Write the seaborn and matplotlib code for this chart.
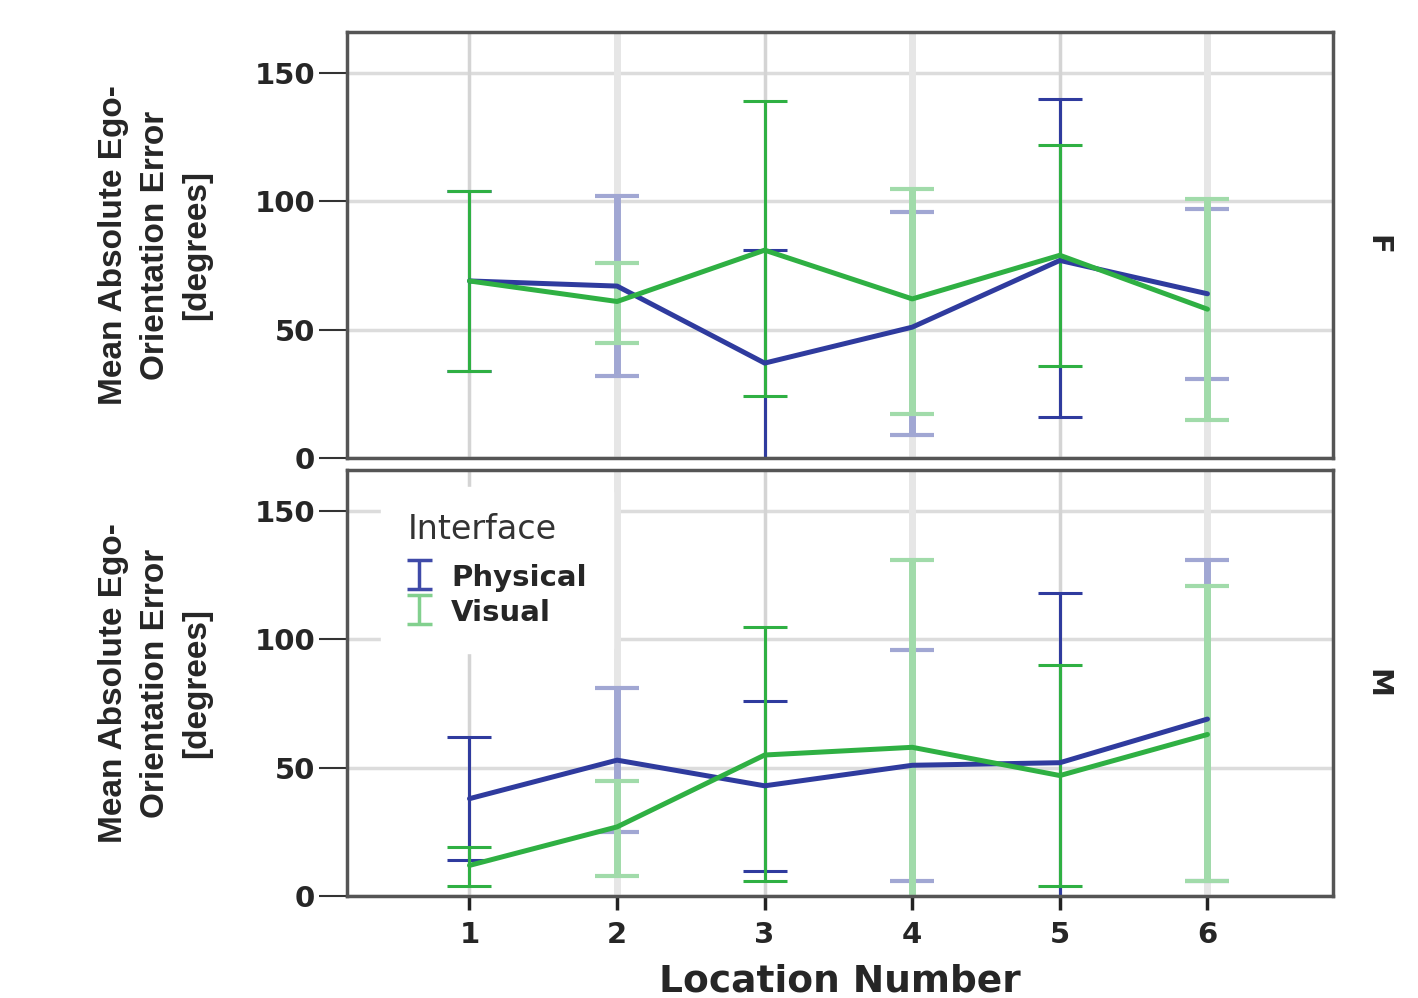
import numpy as np
import pandas as pd
import matplotlib
matplotlib.use('Agg')
import matplotlib.pyplot as plt
import matplotlib.colors as mcolors
import seaborn as sns

# values (mean and error bar ends)
locations = [1, 2, 3, 4, 5, 6]
interfaces = ['Physical', 'Visual']
sexes = ['F', 'M']

f_phys_mean = [69, 67, 37, 51, 77, 64]
f_phys_low = [34, 32, -8, 9, 16, 31]
f_phys_high = [104, 102, 81, 96, 140, 97]
f_vis_mean = [69, 61, 81, 62, 79, 58]
f_vis_low = [34, 45, 24, 17, 36, 15]
f_vis_high = [104, 76, 139, 105, 122, 101]

m_phys_mean = [38, 53, 43, 51, 52, 69]
m_phys_low = [14, 25, 10, 6, -15, 6]
m_phys_high = [62, 81, 76, 96, 118, 131]
m_vis_mean = [12, 27, 55, 58, 47, 63]
m_vis_low = [4, 8, 6, -10, 4, 6]
m_vis_high = [19, 45, 105, 131, 90, 121]

y_ticks = [0, 50, 100, 150]

# build a long table
rows = []
series = {
    ('F', 'Physical'): (f_phys_mean, f_phys_low, f_phys_high),
    ('F', 'Visual'): (f_vis_mean, f_vis_low, f_vis_high),
    ('M', 'Physical'): (m_phys_mean, m_phys_low, m_phys_high),
    ('M', 'Visual'): (m_vis_mean, m_vis_low, m_vis_high),
}
for (sex, itf), (mean, low, high) in series.items():
    for loc, m, lo, hi in zip(locations, mean, low, high):
        rows.append({'sex': sex, 'interface': itf, 'location': loc,
                     'mean': m, 'low': lo, 'high': hi})
df = pd.DataFrame(rows)

colors = {'Physical': '#2f3b9e', 'Visual': '#2fb043'}


def lighten(c, a=0.45):
    rgb = np.array(mcolors.to_rgb(c))
    return tuple(rgb * a + (1 - a))


light = {k: lighten(v) for k, v in colors.items()}
legend_colors = {'Physical': '#3f4aa8', 'Visual': lighten('#2fb043', 0.6)}

sns.set_style('white')
plt.rcParams['font.family'] = ['DejaVu Sans']

fig = plt.figure(figsize=(14.18, 9.98), dpi=100)
ax_top = fig.add_axes([0.2447, 0.541, 0.6953, 0.427])
ax_bot = fig.add_axes([0.2447, 0.102, 0.6953, 0.427])

for ax, sex in zip([ax_top, ax_bot], sexes):
    sub = df[df['sex'] == sex]
    # grid
    for y in y_ticks:
        ax.axhline(y, color='#dcdcdc', lw=2.5, zorder=0)
    for x in locations:
        if x % 2 == 0:
            ax.axvline(x, color='#e6e6e6', lw=5, zorder=0)
        else:
            ax.axvline(x, color='#d4d4d4', lw=2.5, zorder=0)

    for itf in interfaces:
        s = sub[sub['interface'] == itf]
        for _, r in s.iterrows():
            even = r['location'] % 2 == 0
            ax.errorbar([r['location']], [r['mean']],
                        yerr=[[r['mean'] - r['low']], [r['high'] - r['mean']]],
                        fmt='none', ecolor=light[itf] if even else colors[itf],
                        elinewidth=5 if even else 2.2,
                        capsize=16, capthick=3 if even else 2.2, zorder=2)

    sns.lineplot(data=sub, x='location', y='mean', hue='interface',
                 hue_order=interfaces, palette=colors, errorbar=None,
                 lw=3.6, legend=False, ax=ax, zorder=3)

    ax.set_xlim(0.17, 6.85)
    ax.set_ylim(0, 166)
    ax.set_yticks(y_ticks)
    ax.set_yticklabels([str(t) for t in y_ticks], fontsize=21, fontweight='bold')
    ax.tick_params(axis='y', direction='out', length=20, width=1.5, color='#333333', pad=3, left=True)
    ax.set_ylabel('Mean Absolute Ego-\nOrientation Error\n[degrees]',
                  fontsize=24, fontweight='bold', family='Liberation Sans', labelpad=30,
                  linespacing=1.45)
    for sp in ax.spines.values():
        sp.set_color('#555555')
        sp.set_linewidth(2.5)
    ax.text(1.045, 0.5, sex, transform=ax.transAxes, rotation=270,
            ha='center', va='center', fontsize=21, fontweight='bold')

ax_top.set_xticks(locations)
ax_top.tick_params(axis='x', bottom=False, labelbottom=False)
ax_top.set_xlabel('')

ax_bot.set_xticks(locations)
ax_bot.set_xticklabels([str(l) for l in locations], fontsize=21, fontweight='bold')
ax_bot.tick_params(axis='x', direction='out', length=10, width=2.5, color='#222222', bottom=True, pad=8)
ax_bot.set_xlabel('Location Number', fontsize=27, fontweight='bold', labelpad=10)

# legend proxies
proxies = [ax_bot.errorbar([np.nan], [np.nan], yerr=[[1], [1]], fmt='none',
                           ecolor=legend_colors[itf], elinewidth=2.5,
                           capsize=9, capthick=2.5) for itf in interfaces]
leg = ax_bot.legend(proxies, interfaces,
                    title='Interface', loc='upper left', bbox_to_anchor=(0.02, 0.995),
                    frameon=True, facecolor='white', edgecolor='white', framealpha=1,
                    prop={'size': 21, 'weight': 'bold'}, title_fontsize=24,
                    handlelength=0.8, handleheight=1.0, handletextpad=0.7, labelspacing=0.2,
                    borderpad=0.9, alignment='left')
leg.get_title().set_color('#333333')
# a bit more room between title and entries
leg._legend_box.sep = 12

fig.savefig('out.png', dpi=100)
